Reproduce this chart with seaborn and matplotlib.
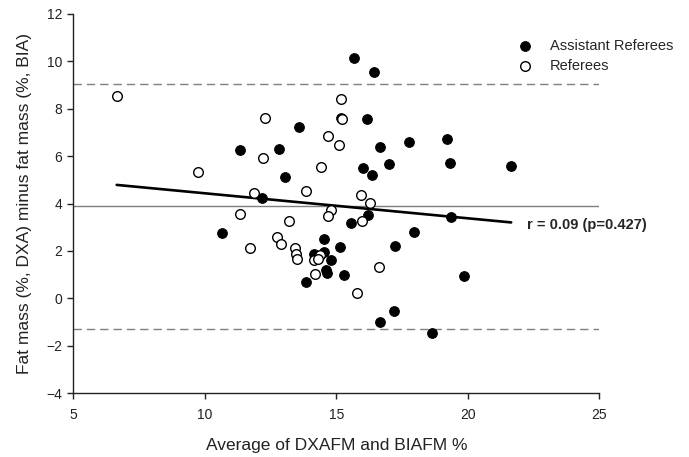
import matplotlib
matplotlib.use("Agg")
import matplotlib.pyplot as plt
import numpy as np
import seaborn as sns

# Assistant referees (filled): average of DXA/BIA fat mass, and DXA minus BIA
ar_avg = [10.66, 11.33, 12.82, 13.60, 13.04, 12.18, 15.66, 16.44, 15.18, 16.15,
          16.67, 17.77, 19.22, 16.03, 16.37, 17.02, 19.33, 21.65, 16.22, 15.56,
          19.37, 17.94, 17.25, 15.14, 14.55, 14.55, 14.17, 14.79, 14.59, 14.64,
          15.28, 13.84, 19.84, 17.19, 16.67, 18.65]
ar_diff = [2.74, 6.27, 6.30, 7.24, 5.13, 4.22, 10.15, 9.54, 7.62, 7.57,
           6.39, 6.60, 6.71, 5.50, 5.20, 5.67, 5.72, 5.57, 3.52, 3.18,
           3.44, 2.78, 2.21, 2.16, 2.50, 1.97, 1.86, 1.62, 1.19, 1.07,
           0.99, 0.69, 0.94, -0.54, -1.00, -1.45]

# Referees (open)
ref_avg = [6.65, 12.28, 12.20, 14.69, 15.10, 15.18, 15.23, 14.43, 9.74, 13.84,
           11.87, 11.33, 14.81, 14.69, 13.19, 15.93, 16.27, 15.99, 12.74, 12.91,
           11.72, 13.42, 13.48, 13.52, 14.37, 14.14, 14.30, 14.18, 16.62, 15.78]
ref_diff = [8.53, 7.62, 5.91, 6.85, 6.47, 8.41, 7.57, 5.55, 5.32, 4.54,
            4.44, 3.54, 3.73, 3.47, 3.25, 4.37, 4.04, 3.28, 2.57, 2.28,
            2.14, 2.12, 1.87, 1.66, 1.83, 1.60, 1.64, 1.04, 1.33, 0.24]

mean_diff = 3.88
upper_loa = 9.06
lower_loa = -1.30
r_text = "r = 0.09 (p=0.427)"

x_ticks = [5, 10, 15, 20, 25]
y_ticks = [-4, -2, 0, 2, 4, 6, 8, 10, 12]

sns.set_style("ticks")
plt.rcParams["font.family"] = ["Liberation Sans", "DejaVu Sans"]

fig = plt.figure(figsize=(6.89, 4.57), dpi=100)
ax = fig.add_axes([0.1064, 0.14, 0.7634, 0.8294])

ax.axhline(mean_diff, color="#7f7f7f", lw=1.0, zorder=1)
for v in (upper_loa, lower_loa):
    ax.axhline(v, color="#7f7f7f", lw=1.0, ls=(0, (6, 3.6)), zorder=1)

all_avg = np.array(ar_avg + ref_avg)
all_diff = np.array(ar_diff + ref_diff)
sns.regplot(x=all_avg, y=all_diff, scatter=False, ci=None, truncate=True,
            color="black", line_kws={"lw": 1.9, "zorder": 2}, ax=ax)

sns.scatterplot(x=ar_avg, y=ar_diff, color="black", edgecolor="black",
                linewidth=0.8, s=48, label="Assistant Referees", zorder=3, ax=ax)
sns.scatterplot(x=ref_avg, y=ref_diff, color="white", edgecolor="black",
                linewidth=1.0, s=48, label="Referees", zorder=3, ax=ax)

ax.text(22.27, 3.09, r_text, fontsize=10.5, fontweight="bold", va="center", ha="left")

ax.set_xlim(5, 25)
ax.set_ylim(-4, 12)
ax.set_xticks(x_ticks)
ax.set_yticks(y_ticks)
ax.tick_params(axis="both", length=4, width=1, labelsize=10, colors="#222222")
ax.tick_params(axis="x", pad=7)
ax.tick_params(axis="y", pad=4)
for side in ("left", "bottom"):
    ax.spines[side].set_color("#222222")
    ax.spines[side].set_linewidth(1)
sns.despine(ax=ax)

ax.set_xlabel("Average of DXAFM and BIAFM %", fontsize=12.5, labelpad=11.5, color="#222222")
ax.set_ylabel("Fat mass (%, DXA) minus fat mass (%, BIA)", fontsize=12.5, labelpad=10, color="#222222")

ax.legend(loc="upper left", bbox_to_anchor=(518 / 689, 1 - 39 / 457),
          bbox_transform=fig.transFigure, frameon=False, fontsize=10.5,
          handlelength=1.0, handletextpad=1.2, labelspacing=0.4,
          borderpad=0, borderaxespad=0)

fig.savefig("out.png", dpi=100)
plt.close(fig)
